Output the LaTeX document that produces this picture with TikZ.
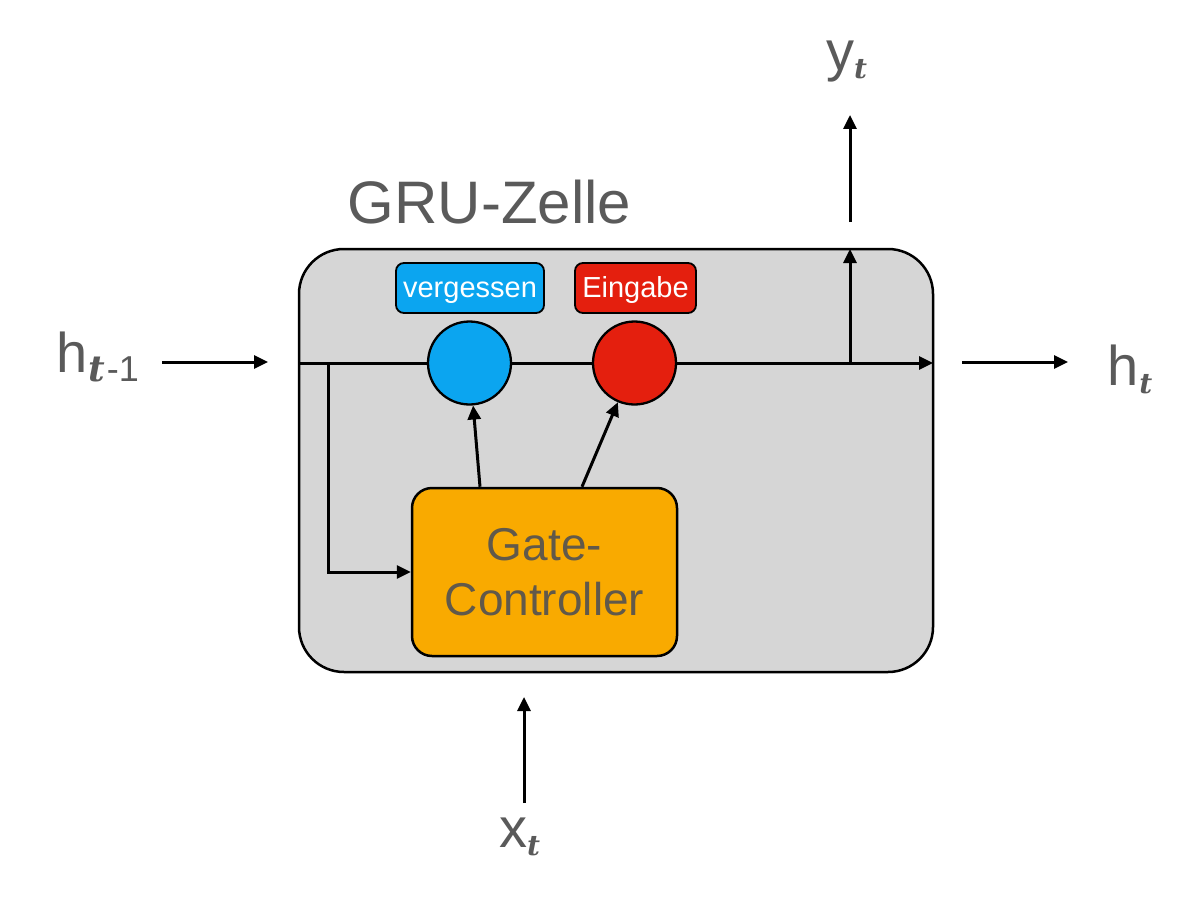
\documentclass[tikz,border=0pt]{standalone}
\usepackage{fontspec}
\setmainfont{Liberation Sans}
\newfontfamily\subfont{DejaVu Serif}
\usetikzlibrary{arrows.meta}
\definecolor{txtgray}{HTML}{5A5A5A}
\definecolor{gatetxt}{HTML}{61594A}
\definecolor{cellgray}{HTML}{D6D6D6}
\definecolor{gblue}{HTML}{0BA5F0}
\definecolor{gred}{HTML}{E41F0E}
\definecolor{gorange}{HTML}{F9AA00}
\newcommand{\tsym}{{\subfont\bfseries\itshape t}}
\tikzset{
  conn/.style={line width=3pt, draw=black},
  arr/.style={conn, -{Triangle[length=14pt,width=13pt]}},
  biglabel/.style={text=txtgray, font=\fontsize{56}{56}\selectfont, inner sep=0pt, anchor=base west},
  tagbox/.style={draw=black, line width=1.8pt, rounded corners=8pt, minimum height=50pt, inner sep=0pt, text height=18pt, text depth=0pt, text=white, font=\fontsize{29}{29}\selectfont},
  gatecircle/.style={circle, draw=black, line width=2.3pt, minimum size=83pt, inner sep=0pt}
}
\begin{document}
\begin{tikzpicture}[x=1pt,y=-1pt]
\useasboundingbox[fill=white] (0,0) rectangle (1198,896);

% cell
\node[draw=black, line width=2.5pt, fill=cellgray, rounded corners=45pt, minimum width=634pt, minimum height=423pt, inner sep=0pt] (cell) at (616,460.5) {};
\node[text=txtgray, font=\fontsize{60}{60}\selectfont, inner sep=0pt, anchor=base] (title) at (489.5,223) {GRU-Zelle};

% tags
\node[tagbox, fill=gblue, minimum width=148pt] (tagv) at (470,288) {vergessen};
\node[tagbox, fill=gred, minimum width=121pt] (tage) at (635.5,288) {Eingabe};

% gate circles
\node[gatecircle, fill=gblue] (blue) at (469.5,363) {};
\node[gatecircle, fill=gred] (red) at (634.5,363) {};

% gate controller
\node[draw=black, line width=2.5pt, fill=gorange, rounded corners=20pt, minimum width=265pt, minimum height=168pt, inner sep=0pt, align=center, text=gatetxt, font=\fontsize{46}{55}\selectfont] (gate) at (544.5,572) {Gate-\\Controller};

% coordinates
\coordinate (inL) at (299,363);
\coordinate (outR) at (933,363);
\coordinate (br) at (328,363);
\coordinate (ybr) at (850,363);
\coordinate (ytop) at (850,249);

% main line
\draw[conn] (inL) -- (blue);
\draw[conn] (blue) -- (red);
\draw[arr] (red) -- (outR);
\draw[arr] (br) |- (gate.west);
\draw[arr] (ybr) -- (ytop);
\draw[arr] ([xshift=-64.5pt]gate.north) -- (blue);
\draw[arr] ([xshift=37.5pt]gate.north) -- (red);

% outside labels
\node[biglabel] (hprev) at (56,372) {h\raisebox{-9pt}{\fontsize{36}{36}\selectfont\kern1pt\tsym\kern2pt-1}};
\node[biglabel] (hnext) at (1107,385) {h\raisebox{-8pt}{\fontsize{28}{28}\selectfont\kern1pt\tsym}};
\node[biglabel] (yout) at (826,71) {y\raisebox{-8pt}{\fontsize{28}{28}\selectfont\tsym}};
\node[biglabel] (xin) at (499,847) {x\raisebox{-8pt}{\fontsize{28}{28}\selectfont\tsym}};

\coordinate (a1) at (162,362);
\coordinate (a2) at (268,362);
\coordinate (b1) at (962,362);
\coordinate (b2) at (1068,362);
\coordinate (c1) at (850,222);
\coordinate (c2) at (850,115);
\coordinate (d1) at (524,803);
\coordinate (d2) at (524,697);
\draw[arr] (a1) -- (a2);
\draw[arr] (b1) -- (b2);
\draw[arr] (c1) -- (c2);
\draw[arr] (d1) -- (d2);
\end{tikzpicture}
\end{document}
